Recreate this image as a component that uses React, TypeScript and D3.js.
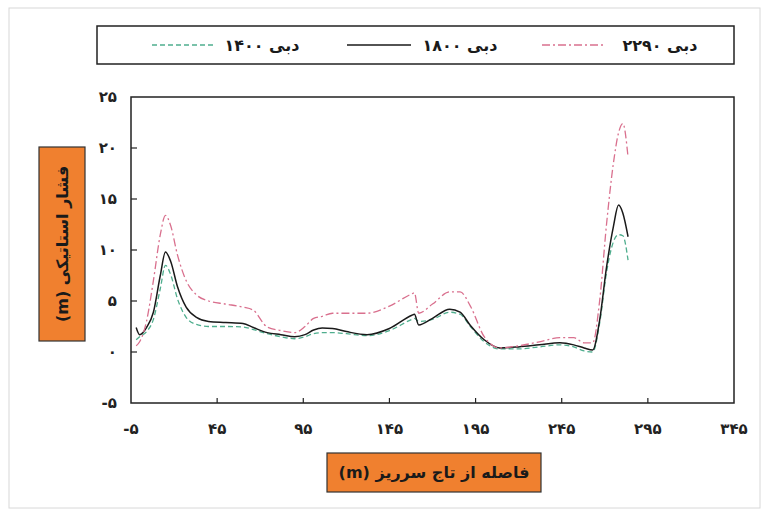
import React from "react";
import * as d3 from "d3";

// distance from spillway crest (m)
const distance = [-2, 0, 4, 8, 12, 15, 18, 22, 27, 33, 40, 50, 60, 66, 74, 82, 90, 96, 101, 106, 112, 120, 132, 145, 158, 159.5, 162, 170, 180, 186, 192, 200, 209, 220, 232, 244, 252, 258, 263, 267, 271, 275, 278, 280.5, 283.5];
const q1400 = [1.2, 1.5, 2.0, 3.2, 6.2, 8.5, 7.6, 5.2, 3.4, 2.7, 2.5, 2.5, 2.45, 2.2, 1.8, 1.5, 1.3, 1.5, 1.8, 1.9, 1.9, 1.8, 1.6, 2.1, 3.2, 3.3, 3.0, 3.2, 3.9, 3.7, 2.5, 1.0, 0.3, 0.3, 0.5, 0.7, 0.5, 0.1, 0.0, 2.8, 7.8, 10.8, 11.5, 11.4, 9.0];
const q1800 = [2.4, 1.7, 2.4, 3.9, 7.5, 9.8, 8.9, 6.4, 4.4, 3.4, 3.0, 2.9, 2.8, 2.4, 1.9, 1.7, 1.5, 1.7, 2.15, 2.35, 2.3, 2.0, 1.7, 2.3, 3.6, 3.7, 2.65, 3.3, 4.2, 3.9, 2.6, 1.2, 0.4, 0.5, 0.7, 0.9, 0.7, 0.4, 0.2, 3.1, 8.3, 12.3, 14.4, 13.6, 11.3];
const q2290 = [0.6, 1.0, 3.0, 7.0, 11.5, 13.4, 12.4, 9.5, 7.0, 5.6, 5.0, 4.7, 4.4, 4.1, 2.45, 2.1, 1.9, 2.5, 3.3, 3.5, 3.8, 3.8, 3.8, 4.5, 5.7, 5.8, 3.8, 4.7, 5.9, 5.9, 4.5, 1.5, 0.4, 0.6, 1.0, 1.4, 1.4, 0.9, 0.9, 5.0, 12.5, 18.5, 21.5, 22.4, 19.1];

const xTicks = [-5, 45, 95, 145, 195, 245, 295, 345];
const yTicks = [-5, 0, 5, 10, 15, 20, 25];

const series = [
  { name: "دبی ۱۴۰۰", values: q1400, color: "#4fae8e", dash: "5,3", width: 1.3 },
  { name: "دبی ۱۸۰۰", values: q1800, color: "#1a1a1a", dash: "", width: 1.5 },
  { name: "دبی ۲۲۹۰", values: q2290, color: "#d9708e", dash: "8,3,2,3", width: 1.3 },
];

const fa = (n: number) =>
  String(n).replace(/\d/g, (d) => "۰۱۲۳۴۵۶۷۸۹"[+d]);

const font = "'DejaVu Sans', sans-serif";

export default function App() {
  const left = 131, right = 734, top = 97, bottom = 403;
  const x = d3.scaleLinear().domain([-5, 345]).range([left, right]);
  const y = d3.scaleLinear().domain([-5, 25]).range([bottom, top]);

  const line = (vals: number[]) =>
    d3
      .line<number>()
      .x((_, i) => x(distance[i]))
      .y((d) => y(d))
      .curve(d3.curveMonotoneX)(vals) || "";

  // legend positions (sample line start, text center)
  const legend = [
    { lx: 152, tx: 262 },
    { lx: 347, tx: 460 },
    { lx: 542, tx: 660 },
  ];

  return (
    <svg
      width={769}
      height={515}
      style={{ position: "absolute", left: 0, top: 0, background: "#fff" }}
    >
      <rect x={9} y={8} width={751} height={500} fill="none" stroke="#d8d8d8" strokeWidth={1} />

      {/* legend */}
      <rect x={97} y={26} width={637} height={38} fill="#fff" stroke="#222" strokeWidth={1.5} />
      {series.map((s, i) => (
        <g key={s.name}>
          <line
            x1={legend[i].lx}
            x2={legend[i].lx + 64}
            y1={45}
            y2={45}
            stroke={s.color}
            strokeWidth={s.width}
            strokeDasharray={s.dash}
          />
          <text
            x={legend[i].tx}
            y={51}
            textAnchor="middle"
            direction="rtl"
            fontFamily={font}
            fontWeight="bold"
            fontSize={16}
            fill="#1a1a1a"
          >
            {s.name}
          </text>
        </g>
      ))}

      {/* plot frame */}
      <rect x={left} y={top} width={right - left} height={bottom - top} fill="none" stroke="#222" strokeWidth={1.5} />

      {/* ticks */}
      {xTicks.slice(1, -1).map((t) => (
        <line key={"xt" + t} x1={x(t)} x2={x(t)} y1={bottom} y2={bottom - 5} stroke="#222" strokeWidth={1.2} />
      ))}
      {yTicks.slice(1, -1).map((t) => (
        <line key={"yt" + t} x1={left} x2={left + 6} y1={y(t)} y2={y(t)} stroke="#222" strokeWidth={1.2} />
      ))}
      {xTicks.map((t) => (
        <text key={"xl" + t} x={x(t)} y={434} textAnchor="middle" fontFamily={font} fontWeight="bold" fontSize={15} fill="#222">
          {fa(t)}
        </text>
      ))}
      {yTicks.map((t) => (
        <text key={"yl" + t} x={117} y={y(t) + 5} textAnchor="end" fontFamily={font} fontWeight="bold" fontSize={15} fill="#222">
          {fa(t)}
        </text>
      ))}

      {/* series */}
      {series.map((s) => (
        <path
          key={"p" + s.name}
          d={line(s.values)}
          fill="none"
          stroke={s.color}
          strokeWidth={s.width}
          strokeDasharray={s.dash}
        />
      ))}

      {/* x title */}
      <rect x={327} y={453} width={214} height={39} fill="#f0802f" stroke="#333" strokeWidth={1.2} />
      <text x={434} y={478} textAnchor="middle" direction="rtl" fontFamily={font} fontWeight="bold" fontSize={16} fill="#1a1a1a">
        فاصله از تاج سرریز (m)
      </text>

      {/* y title */}
      <rect x={39} y={147} width={46} height={194} fill="#f0802f" stroke="#333" strokeWidth={1.2} />
      <text
        transform="translate(68,244) rotate(-90)"
        textAnchor="middle"
        direction="rtl"
        fontFamily={font}
        fontWeight="bold"
        fontSize={16}
        fill="#1a1a1a"
      >
        فشار استاتیکی (m)
      </text>
    </svg>
  );
}
